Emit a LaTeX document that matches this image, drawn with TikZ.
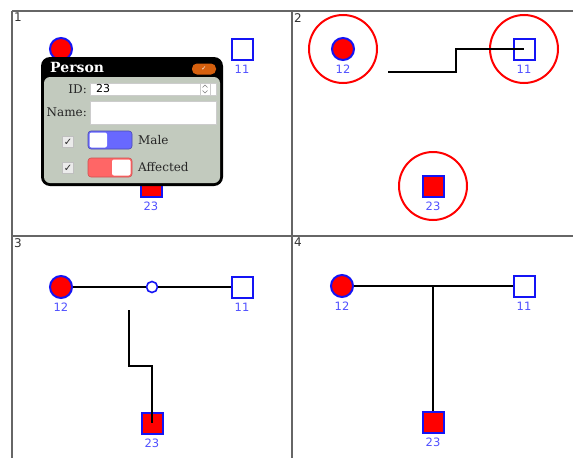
\documentclass[tikz,border=0pt]{standalone}
\usepackage{fontspec}
\setsansfont{DejaVu Sans}
\newfontfamily\popfont{DejaVu Serif}
\newfontfamily\symfont{DejaVu Sans}
\usepackage{tikz}
\usetikzlibrary{positioning,calc}

\definecolor{pedblue}{RGB}{20,20,245}
\definecolor{tagblue}{RGB}{80,80,255}
\definecolor{popbody}{RGB}{194,202,190}
\definecolor{okorange}{RGB}{214,96,14}
\definecolor{toggleblue}{RGB}{104,104,255}
\definecolor{togglered}{RGB}{255,102,102}

\begin{document}
\begin{tikzpicture}[
    x=1pt, y=-1pt,
    female/.style={circle, draw=pedblue, fill=red, line width=2pt,
                   minimum size=22pt, inner sep=0pt},
    male/.style={rectangle, draw=pedblue, fill=white, line width=2pt,
                 minimum size=21pt, inner sep=0pt},
    affected/.style={fill=red},
    tag/.style={font=\sffamily\fontsize{11.5}{12}\selectfont, text=tagblue, inner sep=1pt},
    union/.style={circle, draw=pedblue, fill=white, line width=1.6pt,
                  minimum size=11pt, inner sep=0pt},
    ring/.style={circle, draw=red, line width=2pt, minimum size=68pt, inner sep=0pt},
    link/.style={line width=2pt, black},
    frame/.style={line width=1.3pt, black!60},
    panelno/.style={font=\sffamily\fontsize{12}{12}\selectfont, text=black!80,
                    anchor=north west, inner sep=1pt},
    poplabel/.style={font=\popfont\fontsize{12}{14}\selectfont, text=black!85, inner sep=1pt},
    fieldbox/.style={fill=white, draw=black!20, line width=0.5pt},
    tickbox/.style={rectangle, fill=black!8, draw=black!25, minimum size=11pt, inner sep=0pt,
                    font=\symfont\bfseries\fontsize{10}{10}\selectfont, text=black!85},
]
\useasboundingbox (0,0) rectangle (573,458);

% --- Frame and panel numbers ---
\draw[frame] (12,11) -- (573,11);
\draw[frame] (12,11) -- (12,458);
\draw[frame] (292,11) -- (292,458);
\draw[frame] (12,236) -- (573,236);
\node[panelno] (n1) at (13,12)  {1};
\node[panelno] (n2) at (293,12) {2};
\node[panelno] (n3) at (13,237) {3};
\node[panelno] (n4) at (293,237) {4};

% --- Panel 1: person editor over the pedigree ---
\node[female] (c12a) at (61,49)  {};
\node[male]   (b11a) at (242,49) {};
\node[male, affected] (b23a) at (151,186) {};
\node[tag, below=3pt of b11a.south] (t11a) {11};
\node[tag, below=3pt of b23a.south] (t23a) {23};

% editor window
\fill[black, rounded corners=9pt] (41,57) rectangle (223,186);
\fill[popbody, rounded corners=6pt] (44,77) rectangle (220,183);
\node[font=\popfont\bfseries\fontsize{14}{16}\selectfont, text=white, anchor=west,
      inner sep=0pt] (ptitle) at (50,67.5) {Person};
\node[rectangle, rounded corners=5pt, fill=okorange, minimum width=24pt, minimum height=11pt,
      inner sep=0pt, font=\symfont\fontsize{6}{6}\selectfont, text=white] (pok) at (204,69) {✓};

\node[poplabel, anchor=east] (lid) at (88,89) {ID:};
\draw[fieldbox] (90,83) rectangle (216,95);
\node[font=\sffamily\fontsize{11}{12}\selectfont, anchor=west, inner sep=0pt] (vid) at (96,88.5) {23};
\draw[fieldbox] (200,83) rectangle (210,95);
\draw[black!50, line width=0.5pt] (202.5,87.5) -- (205,85) -- (207.5,87.5);
\draw[black!50, line width=0.5pt] (202.5,90.5) -- (205,93) -- (207.5,90.5);

\node[poplabel, anchor=east] (lname) at (88,112) {Name:};
\draw[fieldbox] (90,101) rectangle (216,124);

\node[tickbox] (cbm) at (68,142) {✓};
\node[tickbox] (cba) at (68,168) {✓};

% toggle switches
\fill[toggleblue, rounded corners=3pt] (88,131) rectangle (132,149);
\fill[white, rounded corners=2pt] (89.5,132.5) rectangle (107,147.5);
\draw[toggleblue!70!black, line width=0.6pt, rounded corners=3pt] (88,131) rectangle (132,149);
\fill[togglered, rounded corners=3pt] (88,158) rectangle (132,177);
\fill[white, rounded corners=2pt] (112,159.5) rectangle (130.5,175.5);
\draw[togglered!80!black, line width=0.6pt, rounded corners=3pt] (88,158) rectangle (132,177);
\node[poplabel, anchor=west] (lmale) at (137,140.5) {Male};
\node[poplabel, anchor=west] (laff) at (137,167.5) {Affected};

% --- Panel 2: selected people ---
\node[female] (c12b) at (343,49)  {};
\node[male]   (b11b) at (524,49)  {};
\node[male, affected] (b23b) at (433,186) {};
\node[tag, below=3pt of c12b.south] (t12b) {12};
\node[tag, below=3pt of b11b.south] (t11b) {11};
\node[tag, below=3pt of b23b.south] (t23b) {23};
\node[ring] (r12b) at (c12b) {};
\node[ring] (r11b) at (b11b) {};
\node[ring] (r23b) at (b23b) {};
\coordinate (e2) at (388,72);
\draw[link] (e2) -- ++(68,0) |- (b11b.center);

% --- Panel 3: couple with a union node ---
\node[female] (c12c) at (61,287)  {};
\node[male]   (b11c) at (242,287) {};
\node[union]  (u3)   at (152,287) {};
\node[male, affected] (b23c) at (152,423) {};
\node[tag, below=3pt of c12c.south] (t12c) {12};
\node[tag, below=3pt of b11c.south] (t11c) {11};
\node[tag, below=3pt of b23c.south] (t23c) {23};
\draw[link] (c12c) -- (u3);
\draw[link] (u3) -- (b11c);
\coordinate (e3) at (129,310);
\draw[link] (e3) -- ++(0,56) -| (b23c.center);

% --- Panel 4: finished family ---
\node[female] (c12d) at (342,286) {};
\node[male]   (b11d) at (524,286) {};
\node[male, affected] (b23d) at (433,422) {};
\node[tag, below=3pt of c12d.south] (t12d) {12};
\node[tag, below=3pt of b11d.south] (t11d) {11};
\node[tag, below=3pt of b23d.south] (t23d) {23};
\draw[link] (c12d) -- (b11d);
\draw[link] (c12d -| b23d) -- (b23d);
\end{tikzpicture}
\end{document}
